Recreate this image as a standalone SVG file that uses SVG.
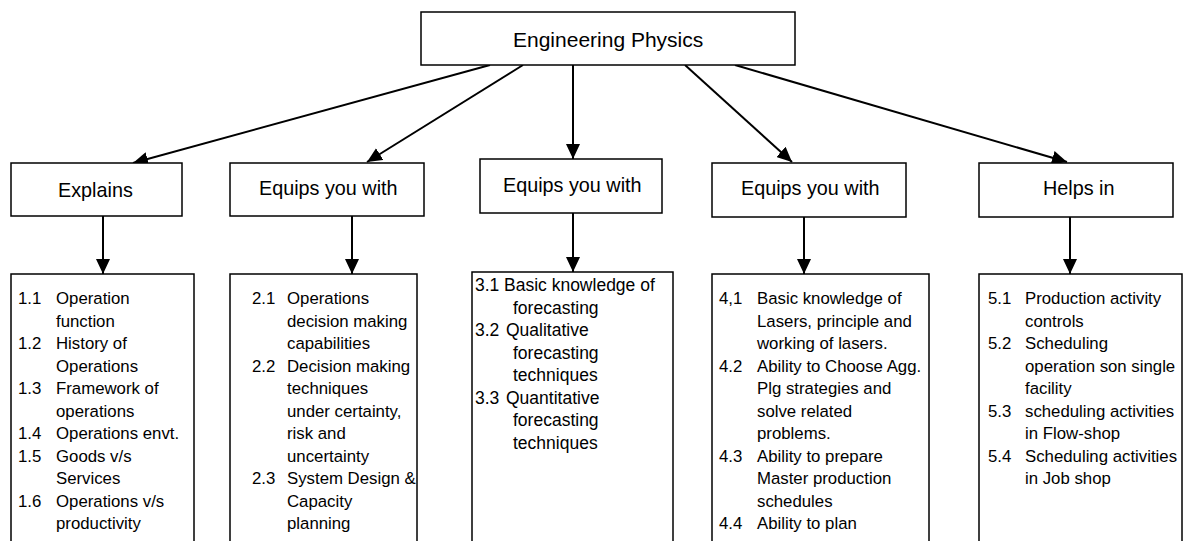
<svg xmlns="http://www.w3.org/2000/svg" width="1183" height="541" viewBox="0 0 1183 541">
<style>
.box{fill:#fff;stroke:#000;stroke-width:1.5}
.conn{stroke:#000;stroke-width:2;fill:none}
.t{font-family:"Liberation Sans",Arial,sans-serif;fill:#000}
.title{font-size:21px}
.hd{font-size:19.8px}
.it{font-size:16.8px}
.it3{font-size:17.5px}
</style>
<defs>
<marker id="ah" markerUnits="userSpaceOnUse" markerWidth="16" markerHeight="14" refX="15" refY="7" orient="auto">
<path d="M0,0 L15,7 L0,14 z" fill="#000"/>
</marker>
</defs>
<rect width="1183" height="541" fill="#fff"/>
<g id="connectors">
<line class="conn" x1="490" y1="65" x2="133" y2="163" marker-end="url(#ah)"/>
<line class="conn" x1="523" y1="65" x2="367" y2="162" marker-end="url(#ah)"/>
<line class="conn" x1="573" y1="65" x2="573" y2="159" marker-end="url(#ah)"/>
<line class="conn" x1="685" y1="65" x2="792" y2="162" marker-end="url(#ah)"/>
<line class="conn" x1="735" y1="65" x2="1067" y2="162" marker-end="url(#ah)"/>
<line class="conn" x1="103" y1="216" x2="103" y2="274" marker-end="url(#ah)"/>
<line class="conn" x1="352" y1="216" x2="352" y2="274" marker-end="url(#ah)"/>
<line class="conn" x1="573" y1="213" x2="573" y2="272" marker-end="url(#ah)"/>
<line class="conn" x1="804" y1="217" x2="804" y2="274" marker-end="url(#ah)"/>
<line class="conn" x1="1070" y1="217" x2="1070" y2="274" marker-end="url(#ah)"/>
</g>
<g id="root">
<rect class="box" x="421" y="12" width="374" height="53"/>
<text class="t title" x="513" y="47">Engineering Physics</text>
</g>
<g id="h1">
<rect class="box" x="11" y="163" width="171" height="53"/>
<text class="t hd" x="58" y="197">Explains</text>
</g>
<g id="h2">
<rect class="box" x="230" y="163" width="194" height="53"/>
<text class="t hd" x="259" y="195">Equips you with</text>
</g>
<g id="h3">
<rect class="box" x="480" y="159" width="182" height="54"/>
<text class="t hd" x="503" y="192">Equips you with</text>
</g>
<g id="h4">
<rect class="box" x="712" y="163" width="194" height="54"/>
<text class="t hd" x="741" y="195">Equips you with</text>
</g>
<g id="h5">
<rect class="box" x="979" y="163" width="194" height="54"/>
<text class="t hd" x="1043" y="195">Helps in</text>
</g>
<g id="l1">
<rect class="box" x="11" y="274" width="183" height="300"/>
<g class="t it">
<text x="18" y="304">1.1</text><text x="56" y="304">Operation</text>
<text x="56" y="326.5">function</text>
<text x="18" y="349">1.2</text><text x="56" y="349">History of</text>
<text x="56" y="371.5">Operations</text>
<text x="18" y="394">1.3</text><text x="56" y="394">Framework of</text>
<text x="56" y="416.5">operations</text>
<text x="18" y="439">1.4</text><text x="56" y="439">Operations envt.</text>
<text x="18" y="461.5">1.5</text><text x="56" y="461.5">Goods v/s</text>
<text x="56" y="484">Services</text>
<text x="18" y="506.5">1.6</text><text x="56" y="506.5">Operations v/s</text>
<text x="56" y="529">productivity</text>
</g>
</g>
<g id="l2">
<rect class="box" x="230" y="274" width="187" height="300"/>
<g class="t it">
<text x="252" y="304">2.1</text><text x="287" y="304">Operations</text>
<text x="287" y="326.5">decision making</text>
<text x="287" y="349">capabilities</text>
<text x="252" y="371.5">2.2</text><text x="287" y="371.5">Decision making</text>
<text x="287" y="394">techniques</text>
<text x="287" y="416.5">under certainty,</text>
<text x="287" y="439">risk and</text>
<text x="287" y="461.5">uncertainty</text>
<text x="252" y="484">2.3</text><text x="287" y="484">System Design &amp;</text>
<text x="287" y="506.5">Capacity</text>
<text x="287" y="529">planning</text>
</g>
</g>
<g id="l3">
<rect class="box" x="472" y="272" width="201" height="300"/>
<g class="t it3">
<text x="475" y="291">3.1</text><text x="504" y="291">Basic knowledge of</text>
<text x="513" y="313.5">forecasting</text>
<text x="475" y="336">3.2</text><text x="506" y="336">Qualitative</text>
<text x="513" y="358.5">forecasting</text>
<text x="513" y="381">techniques</text>
<text x="475" y="403.5">3.3</text><text x="506" y="403.5">Quantitative</text>
<text x="513" y="426">forecasting</text>
<text x="513" y="448.5">techniques</text>
</g>
</g>
<g id="l4">
<rect class="box" x="712" y="274" width="217" height="300"/>
<g class="t it">
<text x="719" y="304">4,1</text><text x="757" y="304">Basic knowledge of</text>
<text x="757" y="326.5">Lasers, principle and</text>
<text x="757" y="349">working of lasers.</text>
<text x="719" y="371.5">4.2</text><text x="757" y="371.5">Ability to Choose Agg.</text>
<text x="757" y="394">Plg strategies and</text>
<text x="757" y="416.5">solve related</text>
<text x="757" y="439">problems.</text>
<text x="719" y="461.5">4.3</text><text x="757" y="461.5">Ability to prepare</text>
<text x="757" y="484">Master production</text>
<text x="757" y="506.5">schedules</text>
<text x="719" y="529">4.4</text><text x="757" y="529">Ability to plan</text>
</g>
</g>
<g id="l5">
<rect class="box" x="979" y="274" width="203" height="300"/>
<g class="t it">
<text x="988" y="304">5.1</text><text x="1025" y="304">Production activity</text>
<text x="1025" y="326.5">controls</text>
<text x="988" y="349">5.2</text><text x="1025" y="349">Scheduling</text>
<text x="1025" y="371.5">operation son single</text>
<text x="1025" y="394">facility</text>
<text x="988" y="416.5">5.3</text><text x="1025" y="416.5">scheduling activities</text>
<text x="1025" y="439">in Flow-shop</text>
<text x="988" y="461.5">5.4</text><text x="1025" y="461.5">Scheduling activities</text>
<text x="1025" y="484">in Job shop</text>
</g>
</g>
</svg>
